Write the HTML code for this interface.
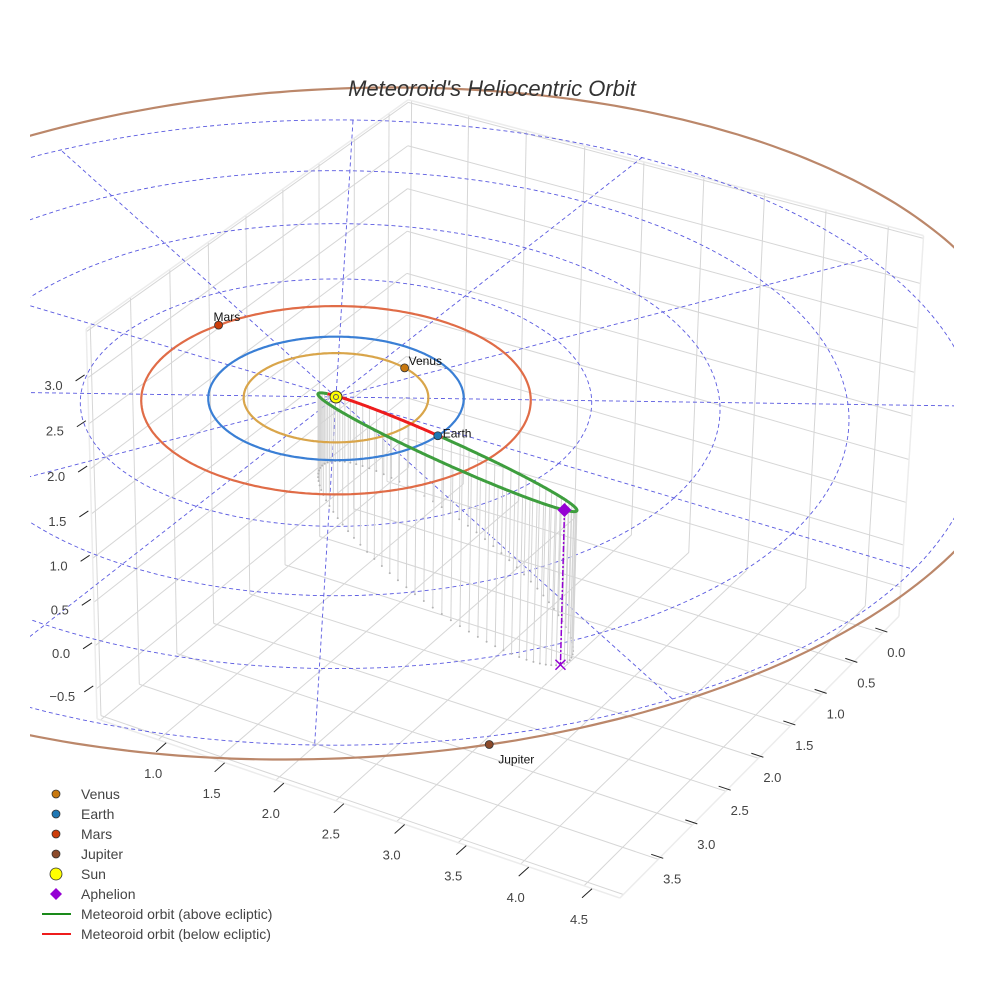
<!DOCTYPE html>
<html>
<head>
<meta charset="utf-8">
<style>
  html,body{margin:0;padding:0;background:#fff;}
  svg{display:block;font-family:"Liberation Sans",sans-serif;}
</style>
</head>
<body>
<svg id="chart" width="984" height="984" viewBox="0 0 984 984" xmlns="http://www.w3.org/2000/svg">
  <defs><clipPath id="sceneClip"><rect x="30" y="0" width="924" height="984"/></clipPath></defs>
  <rect x="0" y="0" width="984" height="984" fill="#fff"/>
  <g clip-path="url(#sceneClip)">
    <g id="box"></g>
    <g id="polar"></g>
    <g id="drops"></g>
    <g id="orbits"></g>
    <g id="meteor"></g>
    <g id="marks"></g>
  </g>
  <g id="ticks"></g>
  <text x="492" y="96" text-anchor="middle" font-size="22" font-style="italic" fill="#333">Meteoroid's Heliocentric Orbit</text>
  <g id="legend"></g>
</svg>
<script>
// ---- data ----
const planetNames = ["Venus", "Earth", "Mars", "Jupiter"];
const planetRadii = [0.723, 1.0, 1.524, 5.40];
const planetLongitudes = [-73, 6.5, 200, 47];
const planetCenterX = [0, 0, 0, -0.12];
const planetCenterY = [0, 0, 0, -0.20];
const planetIncl = [0, 0, 0, 3.5];
const planetNodeLon = [0, 0, 0, -122];
const planetOrbitColors = ["#d9a54a", "#3a7fd5", "#e06c47", "#bb876a"];
const planetMarkerColors = ["#c8780f", "#1f77b4", "#cc3d0a", "#8b4a2b"];
const gridRadii = [1, 2, 3, 4, 5];
const gridAngles = [0, 30, 60, 90, 120, 150, 180, 210, 240, 270, 300, 330];
// meteoroid orbital elements: a (AU), e, i (deg), node (deg), arg. perihelion (deg)
const orbitA = [1.80];
const orbitE = [0.955];
const orbitI = [36.3];
const orbitNode = [6.5];
const orbitPeri = [207.3];
const xRange = [0.47, 4.78];
const yRange = [-0.28, 4.05];
const zRange = [-0.85, 3.53];
const xGridVals = [0.5, 1.0, 1.5, 2.0, 2.5, 3.0, 3.5, 4.0, 4.5];
const yGridVals = [0.0, 0.5, 1.0, 1.5, 2.0, 2.5, 3.0, 3.5, 4.0];
const zGridVals = [-0.5, 0.0, 0.5, 1.0, 1.5, 2.0, 2.5, 3.0, 3.5];
const xTickLabels = ["1.0", "1.5", "2.0", "2.5", "3.0", "3.5", "4.0", "4.5"];
const yTickLabels = ["0.0", "0.5", "1.0", "1.5", "2.0", "2.5", "3.0", "3.5"];
const zTickLabels = ["\u22120.5", "0.0", "0.5", "1.0", "1.5", "2.0", "2.5", "3.0"];
const legendLabels = ["Venus", "Earth", "Mars", "Jupiter", "Sun", "Aphelion", "Meteoroid orbit (above ecliptic)", "Meteoroid orbit (below ecliptic)"];

// ---- camera ----
const CAM = {cx: 336, cy: 397, az: 58.3, el: 28.9, dist: 38.5, f: 4917, zAsp: 0.73};
const D2R = Math.PI / 180;
function proj(x, y, z) {
  const a = CAM.az * D2R, e = CAM.el * D2R;
  const pg = x * Math.cos(a) + y * Math.sin(a);
  const ph = x * Math.sin(a) - y * Math.cos(a);
  const zw = z * CAM.zAsp;
  const depth = CAM.dist - (pg * Math.cos(e) + zw * Math.sin(e));
  const Y = zw * Math.cos(e) - pg * Math.sin(e);
  return [CAM.cx + CAM.f * ph / depth, CAM.cy - CAM.f * Y / depth];
}
const NS = "http://www.w3.org/2000/svg";
function mk(tag, parent) { const el = document.createElementNS(NS, tag); parent.appendChild(el); return el; }
function pathD(pts) { return "M" + pts.map(p => p[0].toFixed(1) + "," + p[1].toFixed(1)).join("L"); }
function seg(parent, p1, p2, stroke, w, dash) {
  const el = mk("line", parent);
  el.setAttribute("x1", p1[0]); el.setAttribute("y1", p1[1]);
  el.setAttribute("x2", p2[0]); el.setAttribute("y2", p2[1]);
  el.setAttribute("stroke", stroke); el.setAttribute("stroke-width", w);
  if (dash) el.setAttribute("stroke-dasharray", dash);
  return el;
}

// ---- box grid ----
const box = document.getElementById("box");
const [x0, x1] = xRange, [y0, y1] = yRange, [z0, z1] = zRange;
const gridCol = "#d6d6d6";
xGridVals.forEach(v => {
  let el = seg(box, proj(v, y0, z0), proj(v, y1, z0), gridCol, 1);
  
  
  el = seg(box, proj(v, y0, z0), proj(v, y0, z1), gridCol, 1);
  
  
});
yGridVals.forEach(v => {
  let el = seg(box, proj(x0, v, z0), proj(x1, v, z0), gridCol, 1);
  
  
  el = seg(box, proj(x0, v, z0), proj(x0, v, z1), gridCol, 1);
  
  
});
zGridVals.forEach(v => {
  let el = seg(box, proj(x0, y0, v), proj(x0, y1, v), gridCol, 1);
  
  
  el = seg(box, proj(x0, y0, v), proj(x1, y0, v), gridCol, 1);
  
  
});
[[[x0,y1,z0],[x1,y1,z0]],[[x1,y0,z0],[x1,y1,z0]],[[x0,y1,z0],[x0,y1,z1]],[[x1,y0,z0],[x1,y0,z1]],[[x0,y0,z1],[x0,y1,z1]],[[x0,y0,z1],[x1,y0,z1]]].forEach(ed => {
  const el = seg(box, proj(...ed[0]), proj(...ed[1]), "#ececec", 1.5);
  
  
});

// ---- ticks ----
const ticks = document.getElementById("ticks");
function tlabel(p, txt, name) {
  const t = mk("text", ticks);
  t.setAttribute("x", p[0]); t.setAttribute("y", p[1] + 5);
  t.setAttribute("text-anchor", "middle"); t.setAttribute("font-size", "13"); t.setAttribute("fill", "#444");
  t.textContent = txt;
  
  
}
xTickLabels.forEach(s => {
  const v = parseFloat(s);
  const e = proj(v, y1, z0);
  const el = seg(ticks, [e[0] - 2, e[1] + 12], [e[0] + 8, e[1] + 3], "#222", 1);
  
  
  tlabel([e[0] - 5, e[1] + 33], s, 'x-tick-label');
});
yTickLabels.forEach(s => {
  const v = parseFloat(s);
  const e = proj(x1, v, z0);
  const el = seg(ticks, [e[0] - 7, e[1] - 5], [e[0] + 5, e[1] - 1], "#222", 1);
  
  
  tlabel([e[0] + 14, e[1] + 19], s, 'y-tick-label');
});
zTickLabels.forEach(s => {
  const v = parseFloat(s.replace("\u2212", "-"));
  const e = proj(x0, y1, v);
  const el = seg(ticks, [e[0] - 12, e[1] + 3], [e[0] - 3, e[1] - 3], "#222", 1);
  
  
  tlabel([e[0] - 34, e[1] + 7], s, 'z-tick-label');
});

// ---- polar grid on ecliptic ----
const polar = document.getElementById("polar");
const gridStroke = "#5a5ae0";
gridRadii.forEach(r => {
  const pts = [];
  for (let k = 0; k <= 240; k++) { const t = k / 240 * 2 * Math.PI; pts.push(proj(r * Math.cos(t), r * Math.sin(t), 0)); }
  const el = mk("path", polar);
  el.setAttribute("d", pathD(pts)); el.setAttribute("fill", "none");
  el.setAttribute("stroke", gridStroke); el.setAttribute("stroke-width", "0.9"); el.setAttribute("stroke-dasharray", "4,3");
  
  
});
const rMax = gridRadii[gridRadii.length - 1];
gridAngles.forEach(ang => {
  const t = ang * D2R;
  const el = seg(polar, proj(0, 0, 0), proj(rMax * Math.cos(t), rMax * Math.sin(t), 0), gridStroke, 0.9, "4,3");
  
  
});

// ---- meteoroid orbit ----
const A = orbitA[0], E = orbitE[0], inc = orbitI[0] * D2R, Om = orbitNode[0] * D2R, w = orbitPeri[0] * D2R;
function orbitPoint(nu) {
  const r = A * (1 - E * E) / (1 + E * Math.cos(nu));
  const u = w + nu;
  return [
    r * (Math.cos(Om) * Math.cos(u) - Math.sin(Om) * Math.sin(u) * Math.cos(inc)),
    r * (Math.sin(Om) * Math.cos(u) + Math.cos(Om) * Math.sin(u) * Math.cos(inc)),
    r * Math.sin(u) * Math.sin(inc)
  ];
}
function nuFromE(Ea) { return 2 * Math.atan2(Math.sqrt(1 + E) * Math.sin(Ea / 2), Math.sqrt(1 - E) * Math.cos(Ea / 2)); }

const drops = document.getElementById("drops");
for (let k = 0; k < 90; k++) {
  const P = orbitPoint(nuFromE(k / 90 * 2 * Math.PI));
  const top = proj(P[0], P[1], P[2]), bot = proj(P[0], P[1], z0);
  const el = seg(drops, top, bot, "#d4d4d4", 1);
  
  
  const d = mk("circle", drops);
  d.setAttribute("cx", bot[0]); d.setAttribute("cy", bot[1]); d.setAttribute("r", 1); d.setAttribute("fill", "#b5b5b5");
  
  
}

function planetPoint(i, lonDeg) {
  const r = planetRadii[i], t = lonDeg * D2R;
  const nd = planetNodeLon[i] * D2R, ic = planetIncl[i] * D2R;
  const z = r * Math.sin(ic) * Math.sin(t - nd);
  return [planetCenterX[i] + r * Math.cos(t), planetCenterY[i] + r * Math.sin(t), z];
}
const orbits = document.getElementById("orbits");
planetRadii.forEach((r, i) => {
  const pts = [];
  for (let k = 0; k <= 360; k++) { const P = planetPoint(i, k); pts.push(proj(P[0], P[1], P[2])); }
  const el = mk("path", orbits);
  el.setAttribute("d", pathD(pts)); el.setAttribute("fill", "none");
  el.setAttribute("stroke", planetOrbitColors[i]); el.setAttribute("stroke-width", "2.2");
  
  
});

const meteor = document.getElementById("meteor");
const N = 720;
let cur = [], curSign = null;
function flush() {
  if (cur.length > 1) {
    const el = mk("path", meteor);
    el.setAttribute("d", pathD(cur)); el.setAttribute("fill", "none");
    el.setAttribute("stroke", curSign ? "#3e9e3e" : "#ee1c1c"); el.setAttribute("stroke-width", "3");
    el.setAttribute("stroke-linejoin", "round");
    
    
  }
}
for (let k = 0; k <= N; k++) {
  const P = orbitPoint(nuFromE(k / N * 2 * Math.PI));
  const s = P[2] >= 0;
  const p = proj(P[0], P[1], P[2]);
  if (curSign === null) curSign = s;
  if (s !== curSign) { cur.push(p); flush(); cur = [p]; curSign = s; } else cur.push(p);
}
flush();

// ---- markers ----
const marks = document.getElementById("marks");
const aph = orbitPoint(Math.PI);
const aTop = proj(aph[0], aph[1], aph[2]), aBot = proj(aph[0], aph[1], z0);
let el = seg(marks, aTop, aBot, "#9400d3", 1.5, "6,2,2,2");


const xm = mk("path", marks);
xm.setAttribute("d", `M${aBot[0]-5},${aBot[1]-5}L${aBot[0]+5},${aBot[1]+5}M${aBot[0]-5},${aBot[1]+5}L${aBot[0]+5},${aBot[1]-5}`);
xm.setAttribute("stroke", "#9400d3"); xm.setAttribute("stroke-width", "1.5");


const dia = mk("path", marks);
dia.setAttribute("d", `M${aTop[0]},${aTop[1]-7}L${aTop[0]+7},${aTop[1]}L${aTop[0]},${aTop[1]+7}L${aTop[0]-7},${aTop[1]}Z`);
dia.setAttribute("fill", "#9400d3");



const sp = proj(0, 0, 0);
const sun = mk("circle", marks);
sun.setAttribute("cx", sp[0]); sun.setAttribute("cy", sp[1]); sun.setAttribute("r", 6);
sun.setAttribute("fill", "#ffff00"); sun.setAttribute("stroke", "#333"); sun.setAttribute("stroke-width", "1");


const sunIn = mk("circle", marks);
sunIn.setAttribute("cx", sp[0]); sunIn.setAttribute("cy", sp[1]); sunIn.setAttribute("r", 2.5);
sunIn.setAttribute("fill", "none"); sunIn.setAttribute("stroke", "#556"); sunIn.setAttribute("stroke-width", "1");



const labelOffsets = [[4, -3], [5, 2], [-5, -4], [9, 19]];
planetNames.forEach((n, i) => {
  const P = planetPoint(i, planetLongitudes[i]);
  const p = proj(P[0], P[1], P[2]);
  const c = mk("circle", marks);
  c.setAttribute("cx", p[0]); c.setAttribute("cy", p[1]); c.setAttribute("r", 4);
  c.setAttribute("fill", planetMarkerColors[i]); c.setAttribute("stroke", "#333"); c.setAttribute("stroke-width", "0.8");
  
  
  const tx = mk("text", marks);
  tx.setAttribute("x", p[0] + labelOffsets[i][0]); tx.setAttribute("y", p[1] + labelOffsets[i][1]);
  tx.setAttribute("font-size", "12"); tx.setAttribute("fill", "#111");
  tx.textContent = n;
  
  
});

// ---- legend ----
const legend = document.getElementById("legend");
legendLabels.forEach((lab, i) => {
  const y = 794 + i * 20;
  const g = mk("g", legend);
  
  
  let m;
  if (i < 4) {
    m = mk("circle", g); m.setAttribute("cx", 56); m.setAttribute("cy", y); m.setAttribute("r", 4);
    m.setAttribute("fill", planetMarkerColors[i]); m.setAttribute("stroke", "#333"); m.setAttribute("stroke-width", "0.8");
  } else if (i === 4) {
    m = mk("circle", g); m.setAttribute("cx", 56); m.setAttribute("cy", y); m.setAttribute("r", 6);
    m.setAttribute("fill", "#ffff00"); m.setAttribute("stroke", "#333"); m.setAttribute("stroke-width", "0.8");
  } else if (i === 5) {
    m = mk("path", g); m.setAttribute("d", `M56,${y-6}L62,${y}L56,${y+6}L50,${y}Z`); m.setAttribute("fill", "#9400d3");
  } else {
    m = mk("line", g); m.setAttribute("x1", 42); m.setAttribute("x2", 71); m.setAttribute("y1", y); m.setAttribute("y2", y);
    m.setAttribute("stroke", i === 6 ? "#1a8a1a" : "#ee1c1c"); m.setAttribute("stroke-width", "2");
  }
  
  
  const t = mk("text", g);
  t.setAttribute("x", 81); t.setAttribute("y", y + 5); t.setAttribute("font-size", "14"); t.setAttribute("fill", "#444");
  t.textContent = lab;
  
  
});
</script>
</body>
</html>
